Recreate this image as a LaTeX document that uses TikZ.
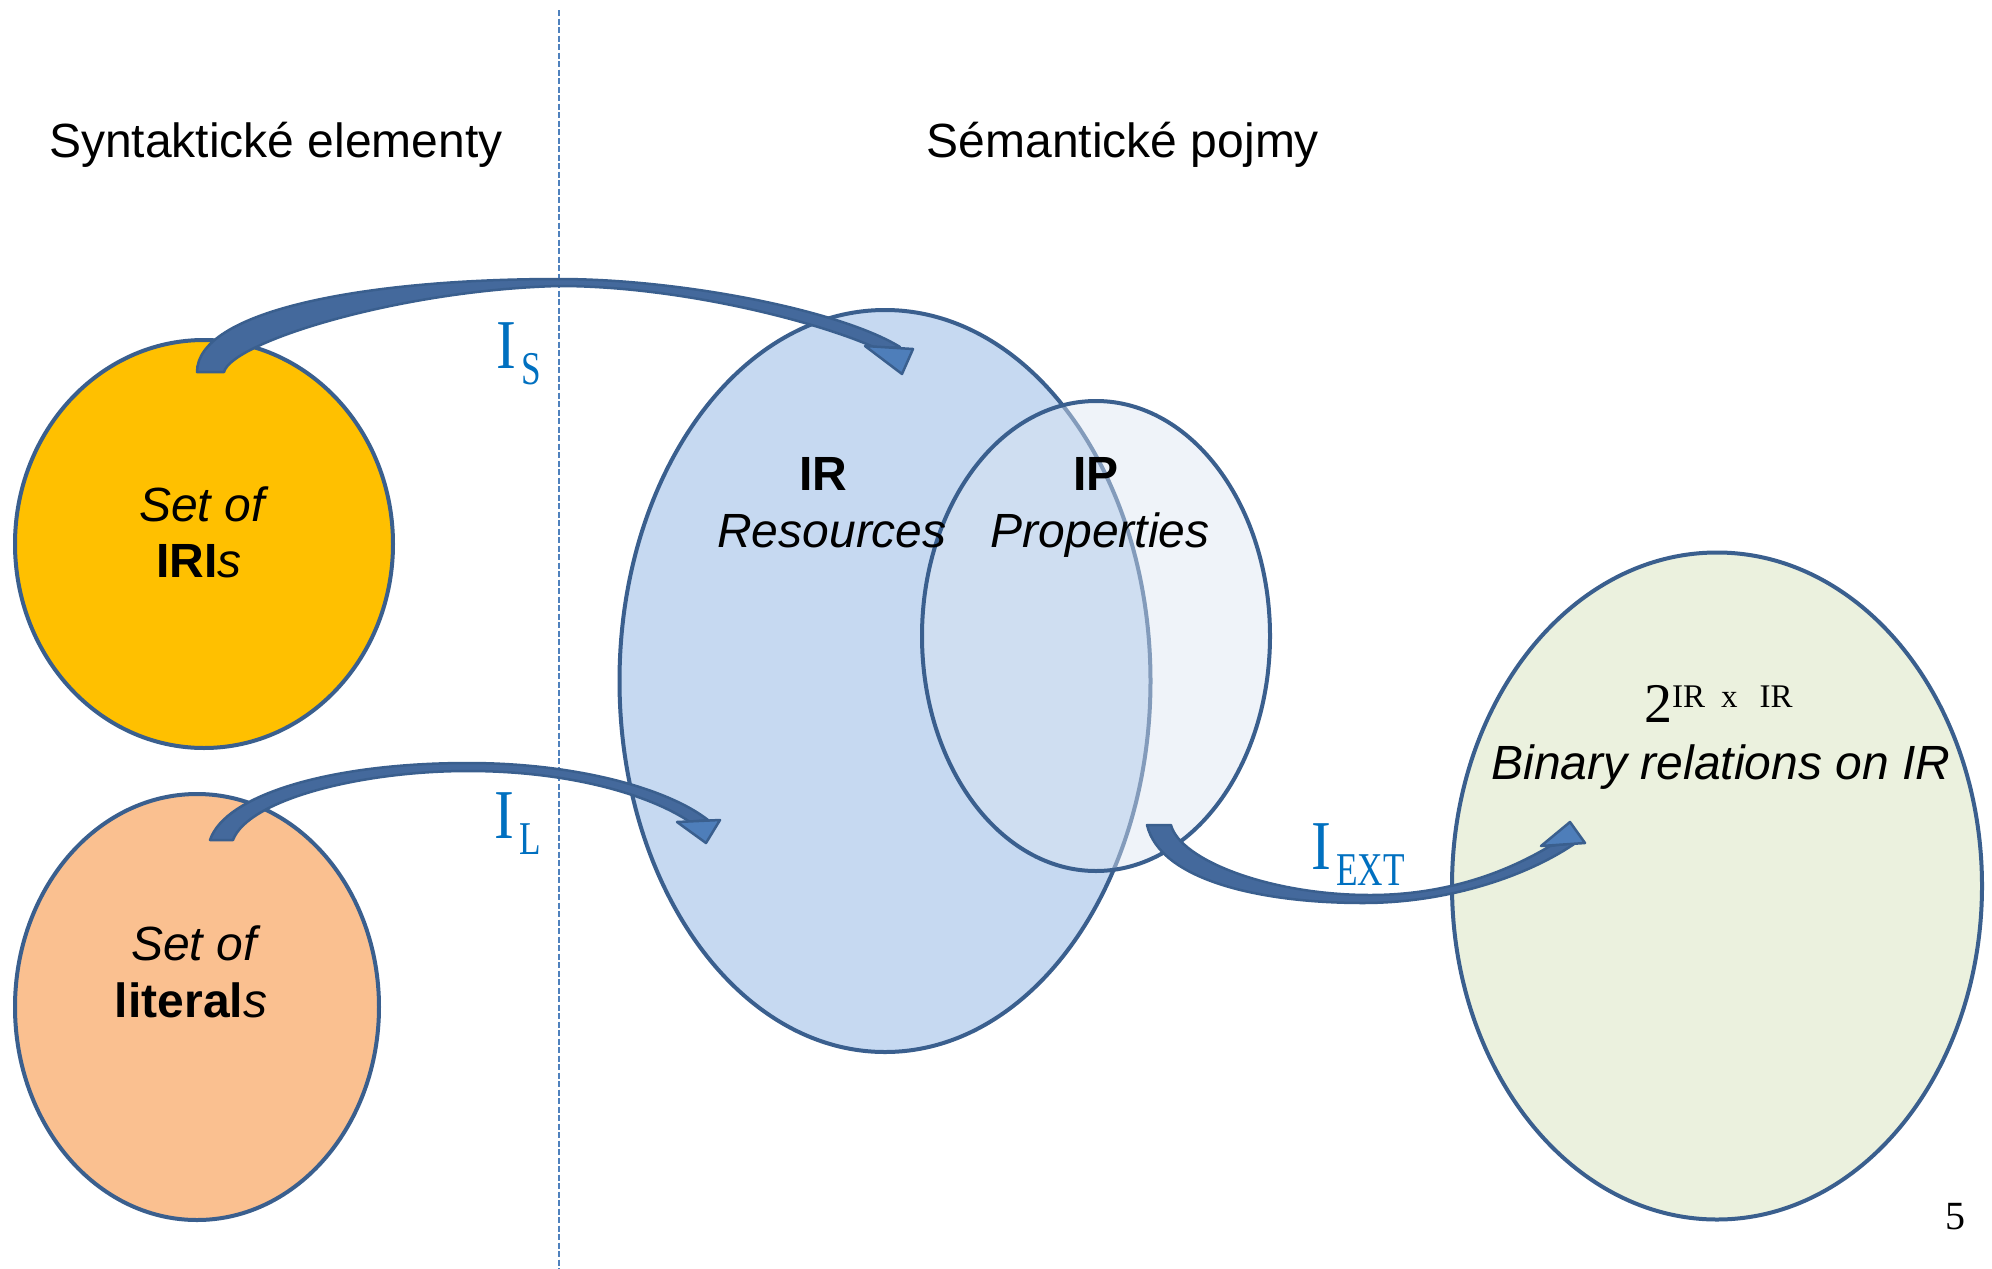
\documentclass[tikz,border=0pt]{standalone}
\usepackage{fontspec}
\setmainfont{Liberation Sans}
\newfontfamily\plainserif{Liberation Serif}
\newfontfamily\condserif[FakeStretch=0.85]{Liberation Serif}
\newfontfamily\subserif[FakeStretch=0.75]{Liberation Serif}
\usetikzlibrary{shapes.geometric}
\definecolor{outl}{HTML}{3A5F8E}
\definecolor{yellowc}{HTML}{FFC000}
\definecolor{orangec}{HTML}{FAC090}
\definecolor{irc}{HTML}{C6D9F1}
\definecolor{ipc}{HTML}{DCE6F2}
\definecolor{greenc}{HTML}{EBF1DE}
\definecolor{bandc}{HTML}{44699C}
\definecolor{headc}{HTML}{4E7EBA}
\definecolor{labc}{HTML}{0070C0}
\definecolor{dashc}{HTML}{4F81BD}
\newcommand\bigtxt{\fontsize{48}{57}\selectfont}
\newcommand\ilab[1]{{\condserif\fontsize{70}{70}\selectfont I\kern5pt\raisebox{-16pt}{\subserif\fontsize{47}{47}\selectfont #1}}}
\begin{document}
\begin{tikzpicture}[x=1pt,y=-1pt,
  blob/.style={ellipse, draw=outl, line width=4pt, inner sep=0pt, outer sep=0pt},
  txt/.style={inner sep=0pt, font=\bigtxt, text=black},
  band/.style={fill=bandc, draw=outl, line width=2.5pt, line join=round},
  headshape/.style={fill=headc, draw=outl, line width=2.5pt, line join=round},
  ilabel/.style={inner sep=0pt, text=labc},
  divider/.style={draw=dashc, line width=2pt, dash pattern=on 6pt off 2.5pt}]
\useasboundingbox (0,0) rectangle (1992,1269);
\fill[white] (0,0) rectangle (1992,1269);

% divider
\coordinate (dtop) at (559,10);
\coordinate (dbot) at (559,1269);
\draw[divider] (dtop) -- (dbot);

% headings
\node[txt, anchor=base] (h1) at (276,157) {Syntaktické elementy};
\node[txt, anchor=base] (h2) at (1123,157) {Sémantické pojmy};

% sets
\node[blob, fill=yellowc, minimum width=378pt, minimum height=408pt] (iris) at (204,544) {};
\node[blob, fill=orangec, minimum width=364pt, minimum height=426pt] (lits) at (197,1007) {};
\node[blob, fill=irc, minimum width=531pt, minimum height=742pt] (ir) at (885,681) {};
\node[blob, fill=ipc, fill opacity=0.45, draw opacity=1, minimum width=348pt, minimum height=470pt] (ip) at (1096,636) {};
\node[blob, fill=greenc, minimum width=530pt, minimum height=667pt] (rel) at (1717,886) {};

% texts in sets
\node[txt, anchor=base] (t1) at (202,521) {\itshape Set of};
\node[txt, anchor=base] (t2) at (199,577) {\bfseries IRI\mdseries\itshape s};
\node[txt, anchor=base] (t3) at (194,960) {\itshape Set of};
\node[txt, anchor=base] (t4) at (191,1017) {\bfseries literal\mdseries\itshape s};
\node[txt, anchor=base] (t5) at (823,490) {\bfseries IR};
\node[txt, anchor=base] (t6) at (832,547) {\itshape Resources};
\node[txt, anchor=base] (t7) at (1096,490) {\bfseries IP};
\node[txt, anchor=base] (t8) at (1100,547) {\itshape Properties};
\node[txt, anchor=base west] (t9) at (1644,722) {\plainserif\fontsize{56}{56}\selectfont 2\raisebox{15pt}{\fontsize{33}{33}\selectfont IR\hspace{16pt}x\hspace{22pt}IR}};
\node[txt, anchor=base] (t10) at (1721,779) {\itshape Binary relations on IR};

% I_S arrow
\coordinate (isTail) at (210,372);
\coordinate (isTip) at (902,374);
\path[band] (197,372) .. controls (197,312) and (359,279) .. (559,279)
  .. controls (680,279) and (840,310) .. (900,347) -- (878,349)
  .. controls (820,322) and (680,286) .. (559,286)
  .. controls (400,290) and (232,342) .. (224,372) -- cycle;
\path[headshape] (865,346) -- (913,349) -- (isTip) -- cycle;

% I_L arrow
\coordinate (ilTail) at (221,840);
\coordinate (ilTip) at (706,843);
\path[band] (210,840) .. controls (225,795) and (330,763) .. (468,763)
  .. controls (580,763) and (670,790) .. (708,820) -- (690,822)
  .. controls (650,795) and (570,771) .. (468,771)
  .. controls (360,771) and (248,800) .. (233,840) -- cycle;
\path[headshape] (677,822) -- (720,820) -- (ilTip) -- cycle;

% I_EXT arrow
\coordinate (ieTail) at (1159,825);
\coordinate (ieTip) at (1570,822);
\path[band] (1147,825) .. controls (1160,880) and (1260,903) .. (1363,903)
  .. controls (1450,903) and (1530,875) .. (1577,842) -- (1550,846)
  .. controls (1510,870) and (1450,895) .. (1370,895)
  .. controls (1270,895) and (1180,860) .. (1171,825) -- cycle;
\path[headshape] (1541,846) -- (ieTip) -- (1585,843) -- cycle;

% mapping labels
\node[ilabel, anchor=base west] (ls) at (496,368) {\ilab{S}};
\node[ilabel, anchor=base west] (ll) at (494,838) {\ilab{L}};
\node[ilabel, anchor=base west] (le) at (1311,869) {\ilab{EXT}};

% page number
\node[txt, anchor=base] (pg) at (1955,1229) {\plainserif\fontsize{40}{40}\selectfont 5};
\end{tikzpicture}
\end{document}
